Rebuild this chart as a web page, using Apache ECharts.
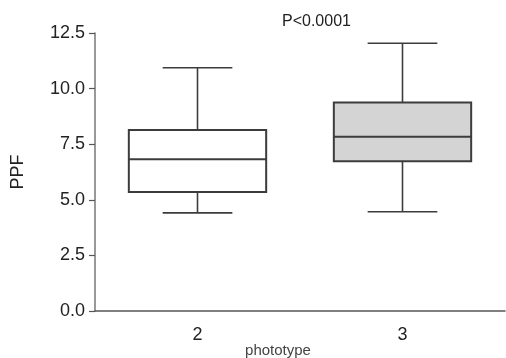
<!DOCTYPE html>
<html>
<head>
<meta charset="utf-8">
<script src="https://cdn.jsdelivr.net/npm/echarts@6/dist/echarts.min.js"></script>
<style>
  html, body { margin: 0; padding: 0; background: #fff; }
  #chart { width: 506px; height: 358px; }
</style>
</head>
<body>
<div id="chart"></div>
<script>
// phototype groups and box stats
const categories = ['2', '3'];
const whiskerLow = [4.41, 4.46];
const q1 = [5.35, 6.73];
const median = [6.82, 7.84];
const q3 = [8.14, 9.37];
const whiskerHigh = [10.94, 12.04];
const boxFill = ['#ffffff', '#d4d4d4'];
const yTicks = [0, 2.5, 5, 7.5, 10, 12.5];

const chart = echarts.init(document.getElementById('chart'), null, { renderer: 'canvas' });

const seriesData = categories.map((c, i) => [i, whiskerLow[i], q1[i], median[i], q3[i], whiskerHigh[i]]);

const lineStroke = { stroke: '#3c3c3c', lineWidth: 1.6 };

function renderBox(params, api) {
  const i = api.value(0);
  const band = api.size([1, 0])[0];
  const boxW = band * 0.67;
  const capW = band * 0.34;
  const lo = api.coord([i, api.value(1)]);
  const b1 = api.coord([i, api.value(2)]);
  const md = api.coord([i, api.value(3)]);
  const b3 = api.coord([i, api.value(4)]);
  const hi = api.coord([i, api.value(5)]);
  const x = lo[0];
  return {
    type: 'group',
    children: [
      { type: 'line', shape: { x1: x, y1: b3[1], x2: x, y2: hi[1] }, style: lineStroke },
      { type: 'line', shape: { x1: x, y1: lo[1], x2: x, y2: b1[1] }, style: lineStroke },
      { type: 'line', shape: { x1: x - capW / 2, y1: hi[1], x2: x + capW / 2, y2: hi[1] }, style: lineStroke },
      { type: 'line', shape: { x1: x - capW / 2, y1: lo[1], x2: x + capW / 2, y2: lo[1] }, style: lineStroke },
      {
        type: 'rect',
        shape: { x: x - boxW / 2, y: b3[1], width: boxW, height: b1[1] - b3[1] },
        style: { fill: boxFill[i], stroke: '#3c3c3c', lineWidth: 2 }
      },
      { type: 'line', shape: { x1: x - boxW / 2, y1: md[1], x2: x + boxW / 2, y2: md[1] }, style: { stroke: '#3c3c3c', lineWidth: 2 } }
    ]
  };
}

chart.setOption({
  animation: false,
  title: {
    text: 'P<0.0001',
    left: 277, top: 9,
    textStyle: { fontFamily: 'Liberation Sans, Arial', fontSize: 16, fontWeight: 'normal', color: '#222' }
  },
  grid: { left: 95, right: 1, top: 33, bottom: 47, containLabel: false, outerBoundsMode: 'none' },
  xAxis: {
    type: 'category',
    data: categories,
    name: 'phototype',
    nameLocation: 'middle',
    nameGap: 32,
    nameMoveOverlap: false,
    nameTextStyle: { fontFamily: 'Liberation Sans, Arial', fontSize: 15, color: '#444', padding: [0, 44, 0, 0] },
    axisLine: { lineStyle: { color: '#555', width: 1.5 } },
    axisTick: { show: false },
    axisLabel: { fontFamily: 'Liberation Sans, Arial', fontSize: 18, color: '#222', margin: 15 },
    splitLine: { show: false }
  },
  yAxis: {
    type: 'value',
    min: yTicks[0],
    max: yTicks[yTicks.length - 1],
    interval: 2.5,
    name: 'PPF',
    nameLocation: 'middle',
    nameGap: 68,
    nameMoveOverlap: false,
    nameTextStyle: { fontFamily: 'Liberation Sans, Arial', fontSize: 18, color: '#222' },
    axisLine: { show: true, lineStyle: { color: '#777', width: 1.5 } },
    axisTick: { show: true, length: 6, lineStyle: { color: '#555', width: 1.2 } },
    axisLabel: {
      fontFamily: 'Liberation Sans, Arial', fontSize: 18, color: '#222', margin: 10,
      formatter: v => v.toFixed(1)
    },
    splitLine: { show: false }
  },
  series: [{
    type: 'custom',
    renderItem: renderBox,
    encode: { x: 0, y: [1, 2, 3, 4, 5] },
    data: seriesData
  }]
});
</script>
</body>
</html>
